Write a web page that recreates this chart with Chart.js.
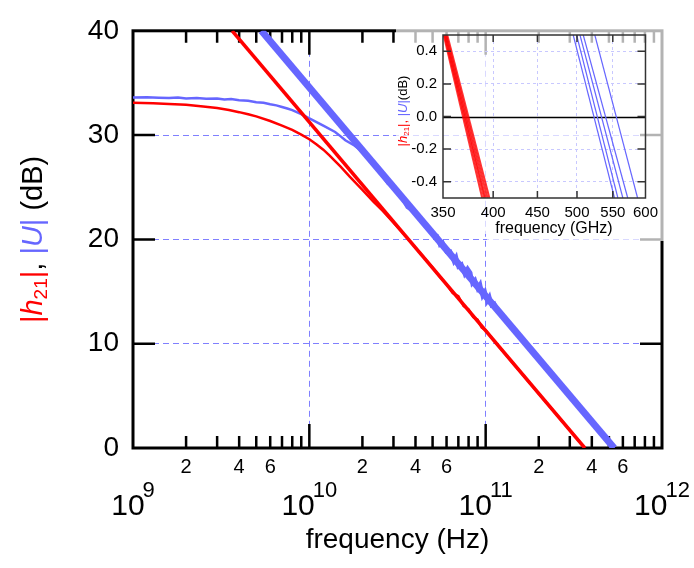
<!DOCTYPE html>
<html>
<head>
<meta charset="utf-8">
<script src="https://cdn.jsdelivr.net/npm/chart.js@4.4.0/dist/chart.umd.min.js"></script>
<style>
  html, body { margin: 0; padding: 0; background: #fff; }
  #wrap { position: relative; width: 694px; height: 568px; }
  #main { position: absolute; left: 0; top: 0; }
  #inset { position: absolute; left: 393px; top: 20px; }
</style>
</head>
<body>
<div id="wrap">
  <canvas id="main" width="694" height="568"></canvas>
  <canvas id="inset" width="271" height="222"></canvas>
</div>
<script>
// measured |h21| (GHz, dB)
const redMeasGHz = [1, 1.3, 1.6, 2, 2.5, 3, 3.5, 4, 4.5, 5, 6, 7, 8, 9, 10, 11, 12, 13, 14, 15, 17, 20, 23, 26, 30, 35, 40, 45, 50, 55, 60, 65, 70, 75, 80, 85, 90, 95, 100, 110, 130, 160, 200, 250, 300, 365]
const redMeasDB = [33.1, 33.05, 32.98, 32.9, 32.75, 32.6, 32.4, 32.2, 32.0, 31.8, 31.35, 30.9, 30.5, 30.05, 29.6, 29.1, 28.6, 28.05, 27.5, 27.0, 26.0, 24.75, 23.65, 22.75, 21.6, 20.35, 19.2, 18.2, 17.3, 16.4, 15.7, 14.85, 14.55, 13.6, 13.3, 12.55, 12.3, 11.55, 11.3, 10.4, 8.95, 7.15, 5.2, 3.3, 1.7, 0]

// measured |U| (GHz, dB)
const blueMeasGHz = [1, 1.2, 1.4, 1.6, 1.8, 2, 2.3, 2.6, 3, 3.3, 3.6, 4, 4.5, 5, 5.5, 6, 6.5, 7, 7.5, 8, 9, 10, 12, 14, 15, 16, 18, 20, 22, 25, 28, 30, 33, 36, 40, 45, 50, 53, 55, 57, 60, 63, 66, 68, 70, 73, 76, 79, 82, 84, 87, 90, 93, 96, 99, 102, 105, 108, 112, 117, 130, 160, 200, 300, 400, 535]
const blueMeasDB = [33.6, 33.62, 33.58, 33.55, 33.6, 33.52, 33.55, 33.48, 33.5, 33.42, 33.45, 33.35, 33.3, 33.15, 33.1, 32.95, 32.85, 32.7, 32.55, 32.4, 32.0, 31.6, 30.9, 30.3, 29.9, 29.5, 29.0, 28.4, 27.6, 26.6, 25.4, 25.0, 24.2, 23.1, 22.6, 21.35, 20.6, 20.35, 19.5, 19.7, 18.8, 18.85, 17.9, 18.3, 17.4, 17.6, 16.7, 17.2, 16.8, 15.8, 16.1, 15.3, 15.7, 14.6, 15.0, 14.1, 14.5, 13.7, 13.85, 13.2, 12.3, 10.5, 8.55, 5.0, 2.5, 0]

// -20 dB/dec fits
const redFitGHz = [3.65, 365]
const redFitDB = [40, 0]
const blueFitGHz = [5.35, 535]
const blueFitDB = [40, 0]

// inset: crossing lines, freq at +0.5 dB and at -0.5 dB
const insetDB = [0.5, -0.5]
const insetRedTopGHz = [350.6, 351.4, 352.2, 353.0, 354.0]
const insetRedBotGHz = [388.5, 390.5, 392.0, 394.0, 396.0]
const insetBlueTopGHz = [495, 499.5, 504, 508.4, 524.3]
const insetBlueBotGHz = [552.5, 557.5, 564.9, 572.3, 587.5]

// ticks / labels
const yTickVals = [0, 10, 20, 30, 40]
const yGridVals = [10, 20, 30]
const xGridHz = [1e10, 1e11]
const decadeExps = [9, 10, 11, 12]
const minorLabels = [2, 4, 6]
const insetXTicks = [350, 400, 450, 500, 550, 600]
const insetYTicks = [-0.4, -0.2, 0, 0.2, 0.4]

const RED = '#ff0000'
const BLUE = '#6666ff'
const GRID = '#8080ff'
const INSET_GRID = '#c8c8ff'
const FONT = '"Liberation Sans", Arial, sans-serif'
const CLEAR = 'rgba(0,0,0,0)'

const toPts = (ghz, db, k) => ghz.map((f, i) => ({ x: f * k, y: db[i] }))

// draws rich text pieces in a row, centred on 0
const drawPieces = (ctx, pieces) => {
  let total = 0
  pieces.forEach(p => { ctx.font = p.font; p.w = ctx.measureText(p.t).width; total += p.w })
  let cx = -total / 2
  pieces.forEach(p => {
    ctx.font = p.font
    ctx.fillStyle = p.c
    ctx.fillText(p.t, cx, p.dy || 0)
    cx += p.w
  })
}

const mainFrame = {
  id: 'mainFrame',
  beforeDatasetsDraw(chart) {
    const { ctx, chartArea: a, scales: { x, y } } = chart
    ctx.save()
    ctx.strokeStyle = '#000'
    ctx.lineWidth = 3
    ctx.strokeRect(a.left, a.top, a.right - a.left, a.bottom - a.top)

    ctx.lineWidth = 2.5
    ctx.beginPath()
    for (let e = 9; e < 12; e++) {
      for (let m = 1; m <= 9; m++) {
        if (e === 9 && m === 1) continue
        const px = x.getPixelForValue(m * Math.pow(10, e))
        const len = m === 1 ? 24 : 12
        ctx.moveTo(px, a.bottom); ctx.lineTo(px, a.bottom - len)
        ctx.moveTo(px, a.top); ctx.lineTo(px, a.top + len)
      }
    }
    yGridVals.forEach(v => {
      const py = y.getPixelForValue(v)
      ctx.moveTo(a.left, py); ctx.lineTo(a.left + 22, py)
      ctx.moveTo(a.right, py); ctx.lineTo(a.right - 22, py)
    })
    ctx.stroke()

    // x labels
    ctx.fillStyle = '#000'
    ctx.textAlign = 'center'
    ctx.textBaseline = 'middle'
    ctx.font = '20px ' + FONT
    for (let e = 9; e < 12; e++) {
      minorLabels.forEach(m => {
        ctx.fillText(String(m), x.getPixelForValue(m * Math.pow(10, e)), 467)
      })
    }
    ctx.textAlign = 'left'
    ctx.textBaseline = 'alphabetic'
    decadeExps.forEach(e => {
      const px = x.getPixelForValue(Math.pow(10, e))
      ctx.font = '30px ' + FONT
      const w10 = ctx.measureText('10').width
      ctx.font = '22px ' + FONT
      const we = ctx.measureText(String(e)).width
      const x0 = px - (w10 + we - 2) / 2
      ctx.font = '30px ' + FONT
      ctx.fillText('10', x0, 515)
      ctx.font = '22px ' + FONT
      ctx.fillText(String(e), x0 + w10 - 2, 497)
    })

    ctx.textAlign = 'center'
    ctx.font = '28px ' + FONT
    ctx.fillText('frequency (Hz)', (a.left + a.right) / 2, 548)

    // y title
    ctx.save()
    ctx.translate(42, (a.top + a.bottom) / 2)
    ctx.rotate(-Math.PI / 2)
    ctx.textAlign = 'left'
    const f = '29px ' + FONT
    const fi = 'italic 29px ' + FONT
    drawPieces(ctx, [
      { t: '|', c: RED, font: f },
      { t: 'h', c: RED, font: fi },
      { t: '21', c: RED, font: '19px ' + FONT, dy: 5 },
      { t: '|', c: RED, font: f },
      { t: ', ', c: '#000', font: f },
      { t: '|', c: BLUE, font: f },
      { t: 'U', c: BLUE, font: fi },
      { t: '|', c: BLUE, font: f },
      { t: ' (dB)', c: '#000', font: f }
    ])
    ctx.restore()

    // white box behind the inset
    ctx.fillStyle = 'rgba(255,255,255,0.7)'
    ctx.fillRect(396, 20, 268, 214)
    ctx.fillRect(487, 234, 177, 7)
    ctx.restore()
  }
}

const lineSet = (data, color, width) => ({
  data, borderColor: color, borderWidth: width,
  showLine: true, pointRadius: 0, fill: false, tension: 0, clip: 0
})

// measured |U| gets a bit heavier where it runs along the fit
const blueMeas = lineSet(toPts(blueMeasGHz, blueMeasDB, 1e9), BLUE, 2.5)
blueMeas.segment = { borderWidth: c => (c.p0.parsed.x >= 2.2e10 ? 4 : 2.5) }

new Chart(document.getElementById('main'), {
  type: 'scatter',
  data: {
    datasets: [
      lineSet(toPts(redFitGHz, redFitDB, 1e9), RED, 3.5),
      lineSet(toPts(redMeasGHz, redMeasDB, 1e9), RED, 2.5),
      lineSet(toPts(blueFitGHz, blueFitDB, 1e9), BLUE, 7),
      blueMeas
    ]
  },
  options: {
    responsive: false,
    animation: false,
    devicePixelRatio: 1,
    layout: { padding: { top: 25, right: 32, left: 0, bottom: 0 } },
    plugins: { legend: { display: false }, tooltip: { enabled: false } },
    scales: {
      x: {
        type: 'logarithmic', min: 1e9, max: 1e12,
        afterBuildTicks: s => { s.ticks = xGridHz.map(v => ({ value: v })) },
        afterFit: s => { s.height = 120 },
        ticks: { display: false },
        grid: { color: GRID, lineWidth: 1, drawTicks: false },
        border: { display: false, dash: [6, 4] }
      },
      y: {
        type: 'linear', min: 0, max: 40,
        afterBuildTicks: s => { s.ticks = yTickVals.map(v => ({ value: v })) },
        afterFit: s => { s.width = 133 },
        ticks: { font: { size: 28, family: FONT }, color: '#000', padding: 14 },
        grid: { color: c => yGridVals.includes(c.tick.value) ? GRID : CLEAR, lineWidth: 1, drawTicks: false },
        border: { display: false, dash: [6, 4] }
      }
    }
  },
  plugins: [mainFrame]
})

// ---------- inset ----------
const insetFrame = {
  id: 'insetFrame',
  beforeDatasetsDraw(chart) {
    const { ctx, chartArea: a, scales: { y } } = chart
    ctx.save()
    ctx.strokeStyle = '#000'
    ctx.lineWidth = 1.3
    ctx.beginPath()
    const py = Math.round(y.getPixelForValue(0)) + 0.5
    ctx.moveTo(a.left, py); ctx.lineTo(a.right, py)
    ctx.stroke()
    ctx.restore()
  },
  afterDraw(chart) {
    const { ctx, chartArea: a, scales: { x, y } } = chart
    ctx.save()
    ctx.strokeStyle = '#333'
    ctx.lineWidth = 1.5
    ctx.strokeRect(a.left, a.top, a.right - a.left, a.bottom - a.top)
    ctx.beginPath()
    insetXTicks.slice(1, -1).forEach(v => {
      const px = x.getPixelForValue(v)
      ctx.moveTo(px, a.bottom); ctx.lineTo(px, a.bottom - 7)
      ctx.moveTo(px, a.top); ctx.lineTo(px, a.top + 7)
    })
    insetYTicks.forEach(v => {
      const p = y.getPixelForValue(v)
      ctx.moveTo(a.left, p); ctx.lineTo(a.left + 8, p)
      ctx.moveTo(a.right, p); ctx.lineTo(a.right - 8, p)
    })
    ctx.stroke()

    ctx.fillStyle = '#000'
    ctx.textAlign = 'center'
    ctx.textBaseline = 'middle'
    ctx.font = '16px ' + FONT
    ctx.fillText('frequency (GHz)', 161, 209)

    ctx.save()
    ctx.translate(14, 91)
    ctx.rotate(-Math.PI / 2)
    ctx.textAlign = 'left'
    ctx.textBaseline = 'alphabetic'
    const f = '13px ' + FONT
    const fi = 'italic 13px ' + FONT
    drawPieces(ctx, [
      { t: '|', c: RED, font: f },
      { t: 'h', c: RED, font: fi },
      { t: '21', c: RED, font: '8px ' + FONT, dy: 2 },
      { t: '|', c: RED, font: f },
      { t: ', ', c: RED, font: f },
      { t: '|', c: BLUE, font: f },
      { t: 'U', c: BLUE, font: fi },
      { t: '|', c: BLUE, font: f },
      { t: '(dB)', c: '#000', font: f }
    ])
    ctx.restore()
    ctx.restore()
  }
}

const insetSets = []
insetRedTopGHz.forEach((top, i) => {
  insetSets.push(lineSet(toPts([top, insetRedBotGHz[i]], insetDB, 1), 'rgba(255,0,0,0.8)', 2))
})
insetBlueTopGHz.forEach((top, i) => {
  insetSets.push(lineSet(toPts([top, insetBlueBotGHz[i]], insetDB, 1), BLUE, 1.2))
})

new Chart(document.getElementById('inset'), {
  type: 'scatter',
  data: { datasets: insetSets },
  options: {
    responsive: false,
    animation: false,
    devicePixelRatio: 1,
    layout: { padding: { top: 13, right: 16, left: 0, bottom: 0 } },
    plugins: { legend: { display: false }, tooltip: { enabled: false } },
    scales: {
      x: {
        type: 'logarithmic', min: 350, max: 600,
        afterBuildTicks: s => { s.ticks = insetXTicks.map(v => ({ value: v })) },
        afterFit: s => { s.height = 44 },
        ticks: { font: { size: 15, family: FONT }, color: '#000', padding: 6, maxRotation: 0, autoSkip: false, callback: v => String(v) },
        grid: { color: c => (c.tick.value > 350 && c.tick.value < 600) ? INSET_GRID : CLEAR, lineWidth: 1, drawTicks: false },
        border: { display: false, dash: [3, 3] }
      },
      y: {
        type: 'linear', min: -0.5, max: 0.5,
        afterBuildTicks: s => { s.ticks = insetYTicks.map(v => ({ value: v })) },
        afterFit: s => { s.width = 50 },
        ticks: { font: { size: 15, family: FONT }, color: '#000', padding: 6, callback: v => Number(v).toFixed(1) },
        grid: { color: c => c.tick.value === 0 ? CLEAR : INSET_GRID, lineWidth: 1, drawTicks: false },
        border: { display: false, dash: [3, 3] }
      }
    }
  },
  plugins: [insetFrame]
})
</script>
</body>
</html>
